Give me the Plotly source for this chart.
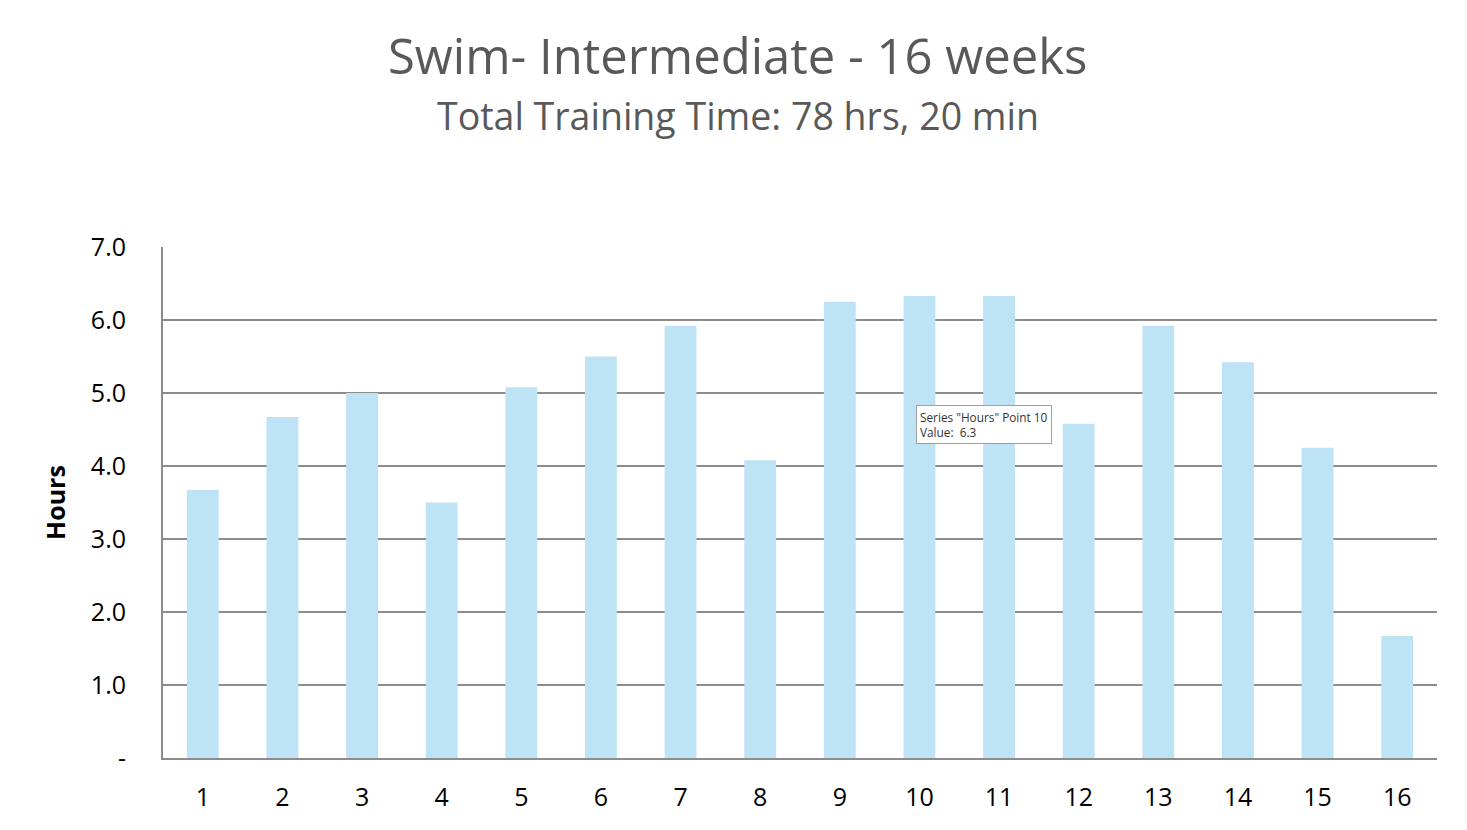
import plotly.graph_objects as go

weeks = [str(i) for i in range(1, 17)]
hours = [3.67, 4.67, 5.0, 3.5, 5.08, 5.5, 5.92, 4.08, 6.25, 6.33, 6.33, 4.58, 5.92, 5.42, 4.25, 1.67]
y_tickvals = [0, 1, 2, 3, 4, 5, 6, 7]
y_ticktext = ["-", "1.0", "2.0", "3.0", "4.0", "5.0", "6.0", "7.0"]

FONT = "Open Sans, Liberation Sans, sans-serif"

W, H = 1459, 822
L, R, T, B = 155, 30, 239, 72
title_x = ((W / 2) - L) / (W - L - R)

fig = go.Figure()
fig.add_trace(go.Bar(
    x=weeks, y=hours, name="Hours",
    marker=dict(color="#BEE3F4", line=dict(width=0)),
    width=0.4,
))

fig.update_layout(
    width=W, height=H,
    margin=dict(l=L, r=R, t=T, b=B),
    paper_bgcolor="white", plot_bgcolor="white",
    showlegend=False,
    font=dict(family=FONT, color="black"),
    xaxis=dict(
        type="category", showgrid=False, showline=True, linecolor="#8C8C8C", linewidth=2,
        ticks="", tickfont=dict(size=25, color="black"), ticklabelstandoff=16,
    ),
    yaxis=dict(
        range=[0, 7], tickvals=y_tickvals, ticktext=y_ticktext,
        showgrid=True, gridcolor="#8C8C8C", gridwidth=2,
        showline=True, linecolor="#8C8C8C", linewidth=2, zeroline=False,
        ticks="", tickfont=dict(size=25, color="black"), ticklabelstandoff=30,
        title=dict(text="<b>Hours</b>", font=dict(size=25, color="black"), standoff=18),
    ),
    annotations=[
        dict(text="Swim- Intermediate - 16 weeks", xref="paper", yref="paper",
             x=title_x, y=1, xanchor="center", yanchor="middle", yshift=192,
             showarrow=False, font=dict(size=49, color="#595959", family=FONT)),
        dict(text="Total Training Time: 78 hrs, 20 min", xref="paper", yref="paper",
             x=title_x, y=1, xanchor="center", yanchor="middle", yshift=132,
             showarrow=False, font=dict(size=37.5, color="#595959", family=FONT)),
        dict(text="Series \"Hours\" Point 10<br>Value:  6.3", xref="x", yref="y",
             x=9, y=4.57, xanchor="left", yanchor="middle", xshift=-3,
             showarrow=False, align="left", bgcolor="#FFFFFF", bordercolor="#A0A0A0",
             borderwidth=1, borderpad=3,
             font=dict(size=11.8, color="#333333", family=FONT)),
    ],
)

fig.write_html("out.html")
